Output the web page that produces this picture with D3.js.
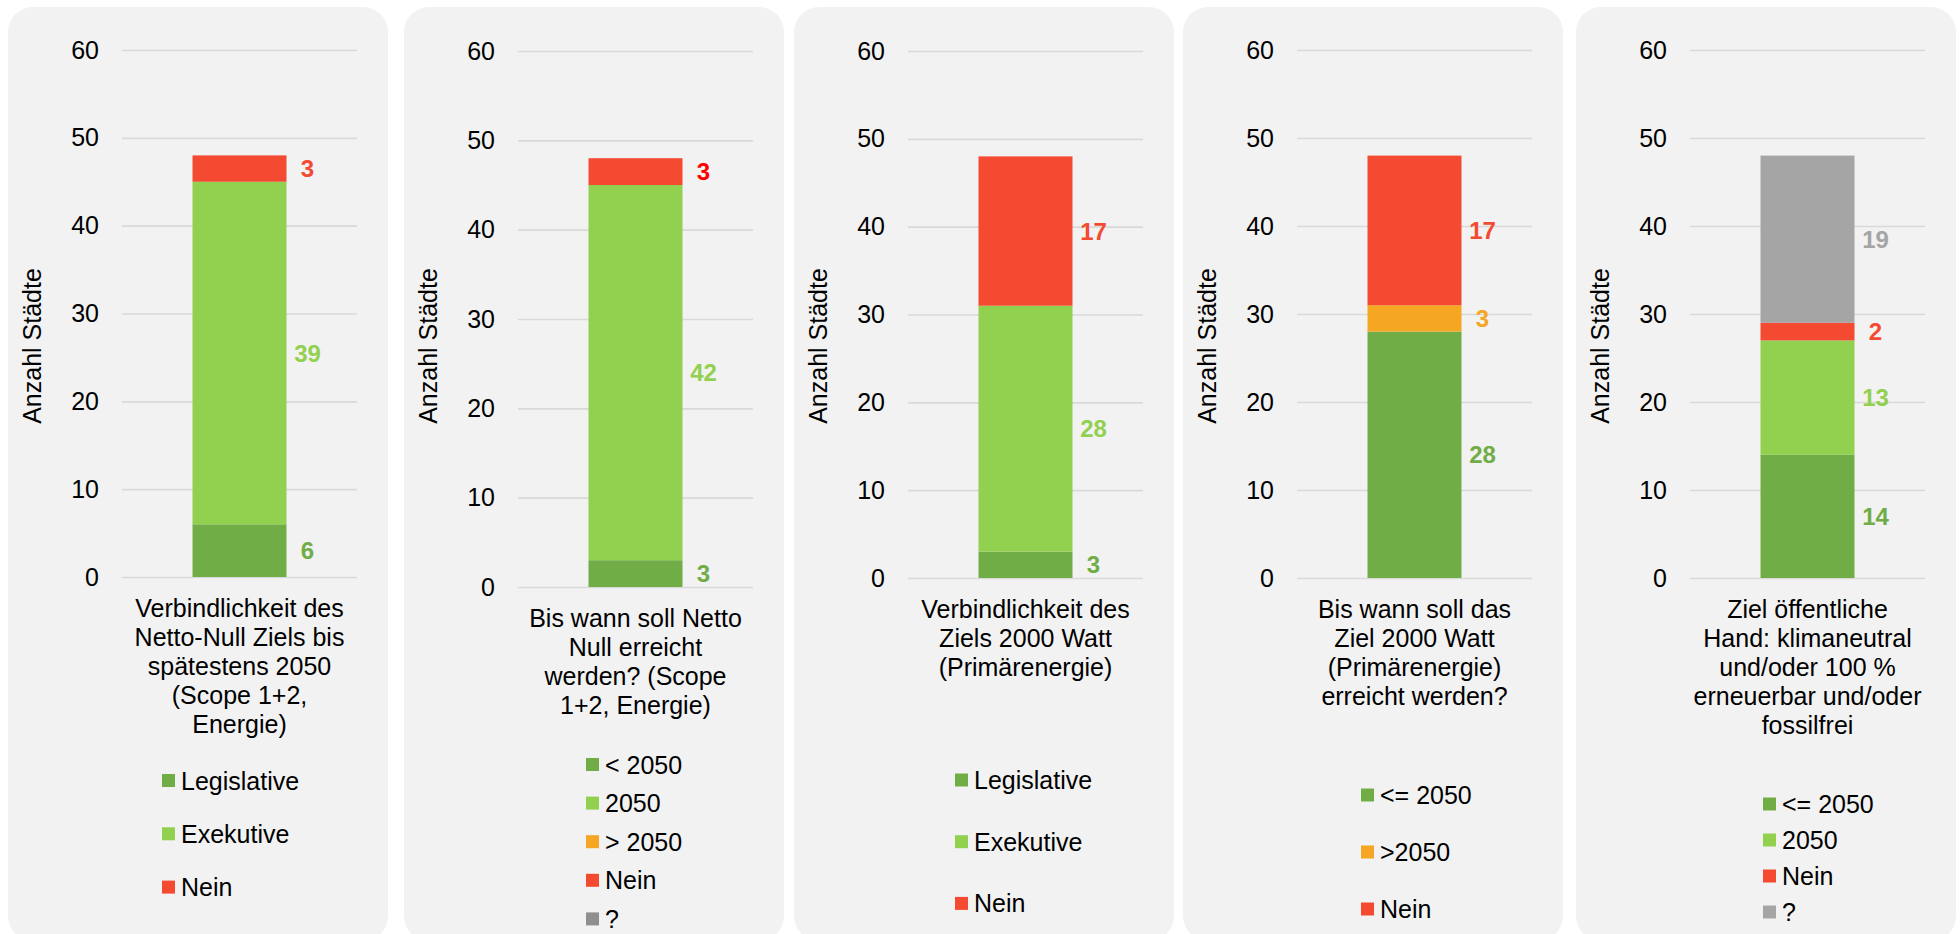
<!DOCTYPE html>
<html>
<head>
<meta charset="utf-8">
<script src="https://cdn.jsdelivr.net/npm/d3@7/dist/d3.min.js"></script>
<style>
  html, body { margin: 0; padding: 0; background: #ffffff; }
  svg { display: block; font-family: "Liberation Sans", Arial, sans-serif; }
</style>
</head>
<body>
<svg id="chart" width="1960" height="934"></svg>
<script>
// ---------- DATA ----------
const yTicks = [0, 10, 20, 30, 40, 50, 60];
const yLabel = "Anzahl Städte";

const titles1 = ["Verbindlichkeit des", "Netto-Null Ziels bis", "spätestens 2050", "(Scope 1+2,", "Energie)"];
const series1 = ["Legislative", "Exekutive", "Nein"];
const values1 = [6, 39, 3];

const titles2 = ["Bis wann soll Netto", "Null erreicht", "werden? (Scope", "1+2, Energie)"];
const series2 = ["< 2050", "2050", "> 2050", "Nein", "?"];
const values2 = [3, 42, 0, 3, 0];

const titles3 = ["Verbindlichkeit des", "Ziels 2000 Watt", "(Primärenergie)"];
const series3 = ["Legislative", "Exekutive", "Nein"];
const values3 = [3, 28, 17];

const titles4 = ["Bis wann soll das", "Ziel 2000 Watt", "(Primärenergie)", "erreicht werden?"];
const series4 = ["<= 2050", ">2050", "Nein"];
const values4 = [28, 3, 17];

const titles5 = ["Ziel öffentliche", "Hand: klimaneutral", "und/oder 100 %", "erneuerbar und/oder", "fossilfrei"];
const series5 = ["<= 2050", "2050", "Nein", "?"];
const values5 = [14, 13, 2, 19];

// ---------- STYLE ----------
const C_DARK = "#70AD47", C_LIGHT = "#92D050", C_RED = "#F44A32", C_ORANGE = "#F5A623", C_GRAY = "#A5A5A5";
const colors1 = [C_DARK, C_LIGHT, C_RED];
const colors2 = [C_DARK, C_LIGHT, C_ORANGE, C_RED, "#8F8F8F"];
const colors3 = [C_DARK, C_LIGHT, C_RED];
const colors4 = [C_DARK, C_ORANGE, C_RED];
const colors5 = [C_DARK, C_LIGHT, C_RED, C_GRAY];
const labelColors2 = [C_DARK, C_LIGHT, C_ORANGE, "#FF0000", "#8F8F8F"];

const panels = [
  { titles: titles1, series: series1, values: values1, colors: colors1, labelColors: colors1 },
  { titles: titles2, series: series2, values: values2, colors: colors2, labelColors: labelColors2 },
  { titles: titles3, series: series3, values: values3, colors: colors3, labelColors: colors3 },
  { titles: titles4, series: series4, values: values4, colors: colors4, labelColors: colors4 },
  { titles: titles5, series: series5, values: values5, colors: colors5, labelColors: colors5 }
];

// layout (pixel geometry per panel)
const layout = [
  { left: 8,    yTop: 50, yBot: 577, legX: 154, legY: 780.5, legDy: 53.3 },
  { left: 404,  yTop: 51, yBot: 587, legX: 182, legY: 764.5, legDy: 38.6 },
  { left: 794,  yTop: 51, yBot: 578, legX: 161, legY: 780,   legDy: 61.7 },
  { left: 1183, yTop: 50, yBot: 578, legX: 178, legY: 795,   legDy: 57.0 },
  { left: 1576, yTop: 50, yBot: 578, legX: 187, legY: 804,   legDy: 36.0 }
];
const PANEL_W = 380, PANEL_TOP = 7, PANEL_BOT = 941;
const PLOT_X0 = 114, PLOT_X1 = 349;
const FONT = 25;

const svg = d3.select("#chart");

panels.forEach((p, i) => {
  const L = layout[i];
  const g = svg.append("g").attr("transform", `translate(${L.left},0)`);

  // panel background
  g.append("rect")
    .attr("x", 0).attr("y", PANEL_TOP)
    .attr("width", PANEL_W).attr("height", PANEL_BOT - PANEL_TOP)
    .attr("rx", 25).attr("ry", 25)
    .attr("fill", "#F2F2F2");

  const cat = p.titles.join(" ");
  const x = d3.scaleBand().domain([cat]).range([PLOT_X0, PLOT_X1]).paddingInner(0).paddingOuter(0.75);
  const y = d3.scaleLinear().domain([0, 60]).range([L.yBot, L.yTop]);

  // axis + gridlines
  const axis = g.append("g")
    .attr("transform", `translate(${PLOT_X0},0)`)
    .call(d3.axisLeft(y).tickValues(yTicks).tickSize(-(PLOT_X1 - PLOT_X0)).tickPadding(23).tickFormat(d3.format("d")));
  axis.select(".domain").remove();
  axis.selectAll(".tick line").attr("stroke", "#D9D9D9").attr("stroke-width", 1.6);
  axis.selectAll(".tick text")
    .attr("fill", "#000").attr("font-size", FONT).attr("font-family", '"Liberation Sans", Arial, sans-serif');

  // stacked data
  const row = {};
  p.series.forEach((s, k) => row[s] = p.values[k]);
  const stack = d3.stack().keys(p.series)([row]);

  const segs = stack.map((layer, k) => ({ key: layer.key, k, y0: layer[0][0], y1: layer[0][1], v: p.values[k] }))
    .filter(d => d.v > 0);

  g.selectAll("rect.seg").data(segs).enter().append("rect")
    .attr("class", "seg")
    .attr("x", x(cat))
    .attr("width", x.bandwidth())
    .attr("y", d => y(d.y1))
    .attr("height", d => y(d.y0) - y(d.y1))
    .attr("fill", d => p.colors[d.k]);

  // value labels
  g.selectAll("text.val").data(segs).enter().append("text")
    .attr("class", "val")
    .attr("x", x(cat) + x.bandwidth() + 21)
    .attr("y", d => y((d.y0 + d.y1) / 2))
    .attr("dy", "0.36em")
    .attr("text-anchor", "middle")
    .attr("font-size", 24)
    .attr("font-weight", "bold")
    .attr("fill", d => p.labelColors[d.k])
    .text(d => d.v);

  // category label
  const cx = x(cat) + x.bandwidth() / 2;
  g.append("g").selectAll("text").data(p.titles).enter().append("text")
    .attr("x", cx)
    .attr("y", (d, j) => L.yBot + 30.5 + j * 29)
    .attr("dy", "0.36em")
    .attr("text-anchor", "middle")
    .attr("font-size", FONT)
    .attr("fill", "#000")
    .text(d => d);

  // y axis title
  g.append("text")
    .attr("transform", `translate(24,346) rotate(-90)`)
    .attr("dy", "0.36em")
    .attr("text-anchor", "middle")
    .attr("font-size", FONT)
    .attr("fill", "#000")
    .text(yLabel);

  // legend
  const leg = g.append("g");
  const items = leg.selectAll("g").data(p.series).enter().append("g")
    .attr("transform", (d, k) => `translate(${L.legX},${L.legY + k * L.legDy})`);
  items.append("rect")
    .attr("x", 0).attr("y", -6.5).attr("width", 13).attr("height", 13)
    .attr("fill", (d, k) => p.colors[k]);
  items.append("text")
    .attr("x", 19).attr("dy", "0.36em")
    .attr("font-size", FONT)
    .attr("fill", "#000")
    .text(d => d);
});
</script>
</body>
</html>
